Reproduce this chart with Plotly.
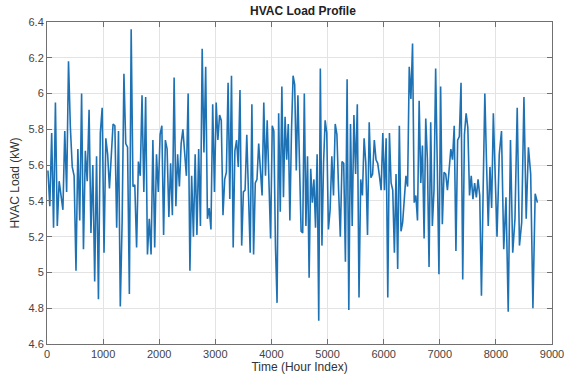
import plotly.graph_objects as go

# HVAC load readings grouped by 1000-hour block (kW)
block_starts = [0, 1000, 2000, 3000, 4000, 5000, 6000, 7000, 8000]
block_ends = [1000, 2000, 3000, 4000, 5000, 6000, 7000, 8000, 8760]

load_0k = [5.57, 5.37, 5.78, 5.25, 5.95, 5.26, 5.51, 5.43, 5.35, 5.79, 5.45, 6.18, 5.81, 5.59, 5.54,
           5.01, 5.69, 5.29, 6.00, 5.13, 5.68, 5.51, 5.91, 5.22, 5.60, 4.95, 5.65, 4.85, 5.78, 5.92]
load_1k = [5.11, 5.75, 5.66, 5.47, 5.68, 5.83, 5.82, 5.25, 5.79,
           4.81, 5.28, 6.11, 5.72, 5.70, 4.88, 6.36, 5.48, 5.49, 5.14, 5.62, 5.54, 5.99, 5.45, 5.98,
           5.10, 5.30, 5.10, 5.74, 5.14, 5.66, 5.45]
load_2k = [5.77, 5.82, 5.21, 5.74, 5.69, 5.31, 5.61, 5.32, 6.09, 5.37, 5.66, 5.48, 5.72, 5.80, 5.69,
           5.54, 6.00, 5.01, 5.54, 5.20, 5.66,
           5.21, 5.69, 5.26, 6.25, 5.67, 6.15, 5.30, 5.36, 5.24, 5.94, 5.45]
load_3k = [5.95, 5.74, 5.88, 5.85, 5.32, 5.52, 5.56, 6.06, 5.41, 6.10, 5.14, 5.68, 5.74, 5.59, 6.02,
           5.15, 5.45, 5.46, 5.77, 5.43, 5.11, 5.94, 5.10, 5.50, 5.52, 5.72, 5.59, 5.43, 5.95, 5.54,
           5.85, 5.55, 5.19]
load_4k = [5.82, 5.79, 5.15, 4.83, 5.89, 5.34, 6.04, 5.42, 5.87, 5.63, 5.83, 5.29, 5.79, 6.10, 6.05,
           5.57, 5.99, 5.50, 5.23, 5.22, 6.00, 5.26, 5.65, 4.97, 5.58, 5.39, 5.52, 5.25, 5.66, 4.73,
           6.14, 5.15, 5.61, 5.85, 5.78]
load_5k = [5.24, 5.35, 5.65, 5.43, 5.83, 5.77, 5.46, 5.20, 5.62, 5.61, 5.06, 6.08,
           4.79, 5.83, 5.26, 5.88, 5.55, 5.94, 4.86, 5.52, 5.43, 5.75, 5.61, 5.21, 5.84, 5.53, 5.55,
           5.74, 5.63, 5.61, 5.54, 5.46, 5.78]
load_6k = [5.46, 5.75, 4.86, 5.78, 5.50, 5.46, 5.11, 5.55, 5.02, 5.82, 5.23, 5.28, 5.43, 5.54, 5.48,
           6.15, 5.97, 6.28, 5.39, 5.43, 5.29, 5.96, 5.50, 5.71, 5.19, 5.86,
           5.63, 5.03, 5.84, 5.26, 5.46, 6.14, 5.59, 4.99]
load_7k = [6.04, 5.27, 5.56, 5.55, 5.46, 5.60, 5.69, 5.63, 5.82, 5.12, 5.74, 5.76, 6.06, 4.96, 5.77,
           5.89, 5.81, 5.43, 5.54, 5.41, 5.50, 5.42, 5.52, 5.43, 4.87, 5.46, 6.00, 5.61, 5.26, 5.59,
           5.36, 5.89, 5.51]
load_8k = [5.20, 5.66, 5.79, 5.13, 5.42, 4.78, 5.74, 5.11, 5.30, 5.92, 5.15, 5.28, 5.98, 5.30, 5.70,
           5.55, 4.80, 5.44, 5.39]

blocks = [load_0k, load_1k, load_2k, load_3k, load_4k, load_5k, load_6k, load_7k, load_8k]

y_ticks = [4.6, 4.8, 5.0, 5.2, 5.4, 5.6, 5.8, 6.0, 6.2, 6.4]
y_labels = ["4.6", "4.8", "5", "5.2", "5.4", "5.6", "5.8", "6", "6.2", "6.4"]
x_ticks = [0, 1000, 2000, 3000, 4000, 5000, 6000, 7000, 8000, 9000]
x_labels = [str(v) for v in x_ticks]

hours, loads = [], []
for s, e, vals in zip(block_starts, block_ends, blocks):
    n = len(vals)
    for i, v in enumerate(vals):
        hours.append(s + (i + 0.5) * (e - s) / n)
        loads.append(v)

fig = go.Figure()
fig.add_trace(go.Scatter(x=hours, y=loads, mode="lines",
                         line=dict(color="rgb(30,114,180)", width=1.6)))

axis_common = dict(showgrid=True, gridcolor="#e3e3e3", gridwidth=1,
                   showline=True, linecolor="#707070", linewidth=1, mirror="ticks",
                   ticks="inside", ticklen=5, tickcolor="#707070", zeroline=False,
                   tickfont=dict(family="Liberation Sans, Arial", size=11, color="#444"))

fig.update_layout(
    width=576, height=383,
    margin=dict(l=47, r=17, t=22, b=33),
    paper_bgcolor="white", plot_bgcolor="white",
    showlegend=False,
    title=dict(text="<b>HVAC Load Profile</b>", x=(47 + 559) / 2 / 576, xanchor="center",
               y=1 - 11 / 383, yanchor="middle",
               font=dict(family="Liberation Sans, Arial", size=12, color="#222")),
    xaxis=dict(range=[0, 9000], tickvals=x_ticks, ticktext=x_labels,
               title=dict(text="Time (Hour Index)", standoff=2,
                          font=dict(family="Liberation Sans, Arial", size=12, color="#333")),
               **axis_common),
    yaxis=dict(range=[4.6, 6.4], tickvals=y_ticks, ticktext=y_labels,
               title=dict(text="HVAC Load (kW)", standoff=6,
                          font=dict(family="Liberation Sans, Arial", size=12, color="#333")),
               **axis_common),
)

fig.write_html("out.html")
